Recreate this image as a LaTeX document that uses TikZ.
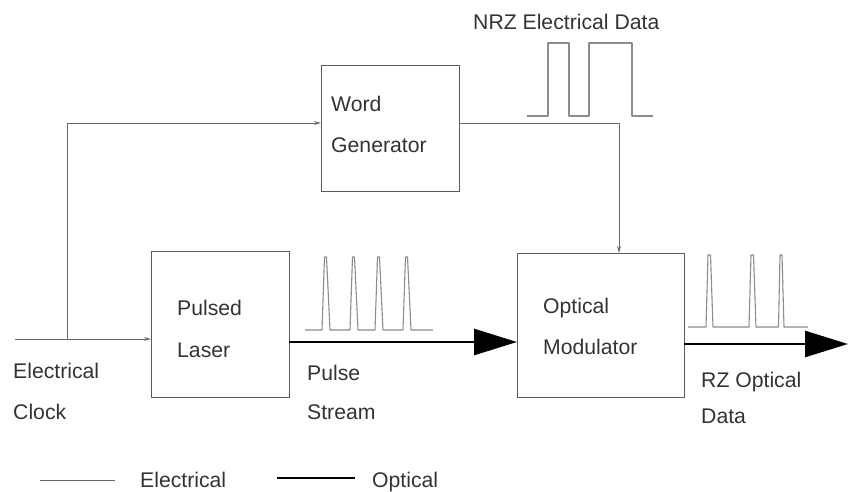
\documentclass[tikz,border=0pt]{standalone}
\usepackage{fontspec}
\setmainfont{Liberation Sans}
\usetikzlibrary{arrows.meta}
\definecolor{txt}{HTML}{333333}
\definecolor{boxc}{HTML}{5a5a5a}
\definecolor{elecc}{HTML}{6a6a6a}
\definecolor{wavec}{HTML}{8c8c8c}
\tikzset{
  box/.style={draw=boxc, line width=1pt, inner sep=0pt, outer sep=0pt},
  lbl/.style={anchor=base west, inner sep=0pt, text=txt, font=\fontsize{21.2}{24}\selectfont},
  elec/.style={draw=elecc, line width=0.9pt, -{Stealth[length=7pt,width=4pt]}},
  elecplain/.style={draw=elecc, line width=0.9pt},
  optic/.style={draw=black, line width=2.6pt, -{Triangle[length=43pt,width=26pt]}},
  wave/.style={draw=wavec, line width=1.1pt, line join=round}
}
\begin{document}
\begin{tikzpicture}[x=1pt,y=-1pt]
\useasboundingbox (0,0) rectangle (848,492);
% boxes
\node[box, minimum width=138, minimum height=125] (wg) at (390,128.5) {};
\node[box, minimum width=138, minimum height=146] (pl) at (220,324) {};
\node[box, minimum width=167, minimum height=144] (om) at (600.5,325) {};
% box labels
\node[lbl] (t1) at (331,112) {Word};
\node[lbl] (t2) at (331,153) {Generator};
\node[lbl] (t3) at (177,315) {Pulsed};
\node[lbl] (t4) at (177,357) {Laser};
\node[lbl] (t5) at (543,313) {Optical};
\node[lbl] (t6) at (543,354) {Modulator};
% other labels
\node[lbl] (l1) at (473,30) {NRZ Electrical Data};
\node[lbl] (l2) at (13,378) {Electrical};
\node[lbl] (l3) at (13,419) {Clock};
\node[lbl] (l4) at (307,380) {Pulse};
\node[lbl] (l5) at (307,419) {Stream};
\node[lbl] (l6) at (701,387) {RZ Optical};
\node[lbl] (l7) at (701,423) {Data};
% electrical connectors
\coordinate (clk) at (15,339);
\coordinate (br) at (67,339);
\coordinate (wgin) at (321,123);
\coordinate (wgout) at (459,123);
\coordinate (omin) at (619,253);
\draw[elec] (clk) -- (clk -| pl.west);
\draw[elec] (br) |- (wgin);
\draw[elec] (wgout) -| (omin);
% optical connectors
\coordinate (plout) at (289,342);
\coordinate (ominl) at (517,342);
\coordinate (omout) at (684,344);
\coordinate (outend) at (848,344);
\draw[optic] (plout) -- (ominl);
\draw[optic] (omout) -- (outend);
% waveforms
\draw[wave] (527,116) -- (548,116) -- (548,43) -- (569,43) -- (569,116) -- (589,116) -- (589,43) -- (632,43) -- (632,116) -- (653,116);
\draw[wave] (305,330) -- (322,330) -- (324.5,257) -- (326.5,257) -- (330,330)
  -- (350,330) -- (352.5,257) -- (354.5,257) -- (358,330)
  -- (375,330) -- (377.5,257) -- (379.5,257) -- (383,330)
  -- (403,330) -- (405.5,257) -- (407.5,257) -- (411,330) -- (433,330);
\draw[wave] (688,327) -- (706,327) -- (708,255) -- (710.5,255) -- (713,327)
  -- (749,327) -- (751,255) -- (753.5,255) -- (756,327)
  -- (778.5,327) -- (780,255) -- (782,255) -- (784,327) -- (808,327);
% legend
\coordinate (le1) at (40,480);
\coordinate (le2) at (115,480);
\coordinate (lo1) at (277,478);
\coordinate (lo2) at (355,478);
\draw[elecplain] (le1) -- (le2);
\draw[draw=black, line width=2.6pt] (lo1) -- (lo2);
\node[lbl] (g1) at (140,487) {Electrical};
\node[lbl] (g2) at (372,487) {Optical};
\end{tikzpicture}
\end{document}
